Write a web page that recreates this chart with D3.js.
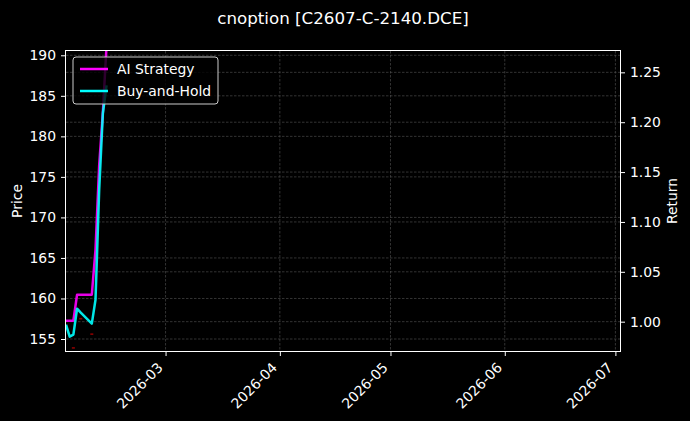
<!DOCTYPE html>
<html lang='en'>
<head>
	<meta charset='utf-8'>
	<script src='https://d3js.org/d3.v7.min.js'></script>
	<style>
		body { margin: 0; background: #000; }
		svg { display: block; }
		svg text { font-family: "DejaVu Sans", sans-serif; fill: #fff; }
	</style>
</head>
<body>
	<svg id='chart' width='690' height='421'></svg>
	<script>
		// data
		var dates = ['2026-02-02', '2026-02-03', '2026-02-04', '2026-02-05', '2026-02-06',
			'2026-02-09', '2026-02-10', '2026-02-11', '2026-02-12', '2026-02-13'];
		var aiReturn = [1.001, 1.001, 1.001, 1.027, 1.027, 1.027, 1.072, 1.157, 1.210, 1.277];
		var bhReturn = [0.997, 0.985, 0.987, 1.013, 1.009, 0.998, 1.022, 1.132, 1.209, 1.237];
		var signalDates = ['2026-02-04', '2026-02-06', '2026-02-09'];
		var signalPrice = [153.9, 157.5, 155.6];
		var priceTicks = [155, 160, 165, 170, 175, 180, 185, 190];
		var returnTicks = [1.00, 1.05, 1.10, 1.15, 1.20, 1.25];
		var monthTicks = ['2026-03-01', '2026-04-01', '2026-05-01', '2026-06-01', '2026-07-01'];

		var parse = d3.utcParse('%Y-%m-%d');
		var margin = { top: 51, right: 70, bottom: 70, left: 66 },
			width = 690 - margin.left - margin.right,
			height = 421 - margin.top - margin.bottom;
		var fs = '13.9px';

		var svg = d3.select('#chart');
		var g = svg.append('g')
			.attr('transform', 'translate(' + margin.left + ',' + margin.top + ')');

		var x = d3.scaleUtc()
			.domain([parse('2026-02-02'), new Date(Date.UTC(2026, 6, 2, 6))])
			.range([0, width]);
		var yPrice = d3.scaleLinear().domain([153.52, 190.53]).range([height, 0]);
		var yRet = d3.scaleLinear().domain([0.9706, 1.2714]).range([height, 0]);

		// grids
		var grid = g.append('g').attr('class', 'grid');
		grid.selectAll('.gx').data(monthTicks).enter().append('line')
			.attr('x1', d => x(parse(d))).attr('x2', d => x(parse(d)))
			.attr('y1', 0).attr('y2', height);
		grid.selectAll('.gp').data(priceTicks).enter().append('line')
			.attr('x1', 0).attr('x2', width)
			.attr('y1', d => yPrice(d)).attr('y2', d => yPrice(d));
		grid.selectAll('.gr').data(returnTicks).enter().append('line')
			.attr('x1', 0).attr('x2', width)
			.attr('y1', d => yRet(d)).attr('y2', d => yRet(d));
		grid.selectAll('line')
			.attr('stroke', '#555')
			.attr('stroke-width', 0.6)
			.attr('stroke-dasharray', '2.5,1.5');

		g.append('clipPath').attr('id', 'clip')
			.append('rect').attr('width', width).attr('height', height);
		var plot = g.append('g').attr('clip-path', 'url(#clip)');

		// signal markers (price axis)
		plot.selectAll('.sig').data(signalDates).enter().append('rect')
			.attr('x', d => x(parse(d)) - 1.5)
			.attr('y', (d, i) => yPrice(signalPrice[i]) - 0.8)
			.attr('width', 3).attr('height', 1.6)
			.attr('fill', '#8b0000');

		var line = d3.line()
			.x((d, i) => x(parse(dates[i])))
			.y(d => yRet(d));

		plot.append('path').datum(aiReturn)
			.attr('d', line)
			.attr('fill', 'none').attr('stroke', '#ff00ff').attr('stroke-opacity', 0.9)
			.attr('stroke-width', 2.5).attr('stroke-linejoin', 'round');
		plot.append('path').datum(bhReturn)
			.attr('d', line)
			.attr('fill', 'none').attr('stroke', '#00ffff').attr('stroke-opacity', 0.9)
			.attr('stroke-width', 2.5).attr('stroke-linejoin', 'round');

		// axes
		var xAxis = d3.axisBottom(x).tickValues(monthTicks.map(parse))
			.tickFormat(d3.utcFormat('%Y-%m')).tickSizeOuter(0).tickSize(5);
		var gx = g.append('g').attr('transform', 'translate(0,' + height + ')').call(xAxis);
		gx.selectAll('text')
			.attr('x', 0).attr('y', 0).attr('dy', null)
			.attr('transform', 'translate(-2.3,17.5) rotate(-45)')
			.style('text-anchor', 'end');

		var gl = g.append('g').call(d3.axisLeft(yPrice).tickValues(priceTicks)
			.tickSizeOuter(0).tickSize(5).tickPadding(5));
		var gr = g.append('g').attr('transform', 'translate(' + width + ',0)')
			.call(d3.axisRight(yRet).tickValues(returnTicks).tickFormat(d3.format('.2f'))
				.tickSizeOuter(0).tickSize(5).tickPadding(5));

		[gx, gl, gr].forEach(function(a) {
			a.attr('font-family', null).attr('font-size', null);
			a.select('.domain').remove();
			a.selectAll('line').attr('stroke', '#fff');
			a.selectAll('text').attr('fill', '#fff').style('font-size', fs);
		});

		// frame, snapped to whole pixels
		g.append('rect').attr('x', -0.5).attr('y', -0.5)
			.attr('width', width + 1).attr('height', height + 1)
			.attr('fill', 'none').attr('stroke', '#fff').attr('stroke-width', 1);

		// labels
		svg.append('text').attr('x', 343).attr('y', 24)
			.attr('text-anchor', 'middle').style('font-size', '16.7px')
			.text('cnoption [C2607-C-2140.DCE]');
		svg.append('text').attr('transform', 'translate(22,' + (margin.top + height / 2) + ') rotate(-90)')
			.attr('text-anchor', 'middle').style('font-size', fs)
			.text('Price');
		svg.append('text').attr('transform', 'translate(677,' + (margin.top + height / 2) + ') rotate(-90)')
			.attr('text-anchor', 'middle').style('font-size', fs)
			.text('Return');

		// legend
		var legendItems = [['AI Strategy', '#ff00ff'], ['Buy-and-Hold', '#00ffff']];
		var lg = g.append('g').attr('transform', 'translate(7,6)');
		lg.append('rect').attr('width', 145).attr('height', 47).attr('rx', 3)
			.attr('fill', '#000').attr('fill-opacity', 0.8)
			.attr('stroke', '#ccc').attr('stroke-width', 1);
		var item = lg.selectAll('.item').data(legendItems).enter().append('g')
			.attr('transform', (d, i) => 'translate(0,' + (12 + i * 22) + ')');
		item.append('line').attr('x1', 7).attr('x2', 35)
			.attr('stroke', d => d[1]).attr('stroke-width', 2.5);
		item.append('text').attr('x', 44).attr('dy', '0.35em')
			.style('font-size', fs)
			.text(d => d[0]);
	</script>
</body>
</html>
